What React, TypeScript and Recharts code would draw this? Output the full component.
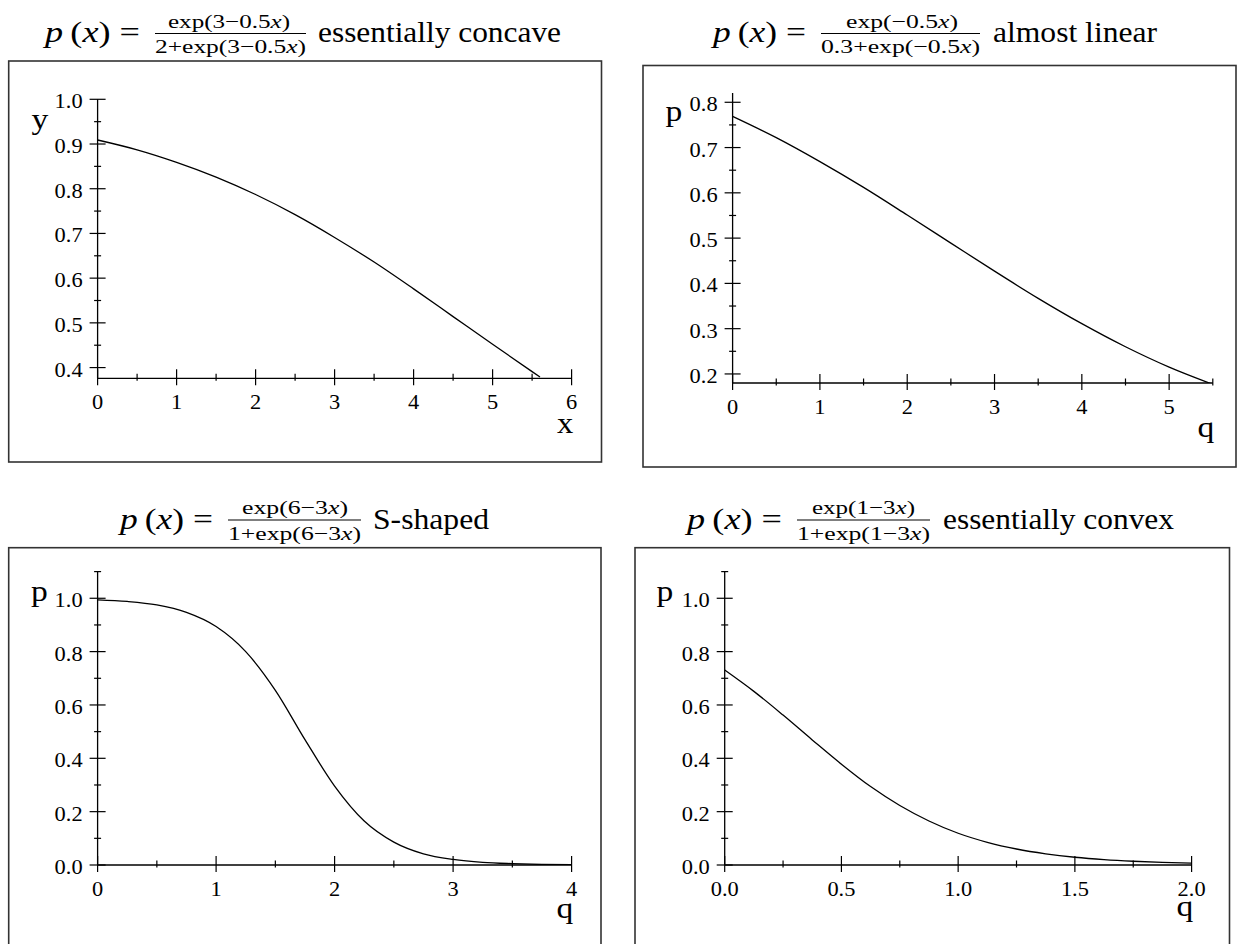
import React from 'react';
import { LineChart, Line, XAxis, YAxis } from 'recharts';

const FONT = "'Liberation Serif', 'Times New Roman', Tinos, 'Nimbus Roman', serif";
const SX = 1.12;

// ---------- Panel 1: essentially concave ----------
const p1X = [0, 0.5, 1, 1.5, 2, 2.5, 3, 3.5, 4, 4.5, 5, 5.5, 5.6];
const p1Y = [0.909, 0.887, 0.859, 0.826, 0.787, 0.742, 0.691, 0.636, 0.576, 0.514, 0.452, 0.391, 0.379];
const p1XTicks = [0, 0.5, 1, 1.5, 2, 2.5, 3, 3.5, 4, 4.5, 5, 5.5, 6];
const p1XMajor = [0, 1, 2, 3, 4, 5, 6];
const p1XLabels = ['0', '1', '2', '3', '4', '5', '6'];
const p1YTicks = [0.4, 0.45, 0.5, 0.55, 0.6, 0.65, 0.7, 0.75, 0.8, 0.85, 0.9, 0.95, 1.0];
const p1YMajor = [0.4, 0.5, 0.6, 0.7, 0.8, 0.9, 1.0];
const p1YLabels = ['0.4', '0.5', '0.6', '0.7', '0.8', '0.9', '1.0'];

// ---------- Panel 2: almost linear ----------
const p2X = [0, 0.5, 1, 1.5, 2, 2.5, 3, 3.5, 4, 4.5, 5, 5.5];
const p2Y = [0.769, 0.722, 0.669, 0.612, 0.551, 0.489, 0.427, 0.367, 0.311, 0.26, 0.215, 0.177];
const p2XTicks = [0, 0.5, 1, 1.5, 2, 2.5, 3, 3.5, 4, 4.5, 5, 5.5];
const p2XMajor = [0, 1, 2, 3, 4, 5];
const p2XLabels = ['0', '1', '2', '3', '4', '5'];
const p2YTicks = [0.2, 0.25, 0.3, 0.35, 0.4, 0.45, 0.5, 0.55, 0.6, 0.65, 0.7, 0.75, 0.8];
const p2YMajor = [0.2, 0.3, 0.4, 0.5, 0.6, 0.7, 0.8];
const p2YLabels = ['0.2', '0.3', '0.4', '0.5', '0.6', '0.7', '0.8'];

// ---------- Panel 3: S-shaped ----------
const p3X = [0, 0.25, 0.5, 0.75, 1, 1.25, 1.5, 1.75, 2, 2.25, 2.5, 2.75, 3, 3.25, 3.5, 3.75, 4];
const p3Y = [0.994, 0.988, 0.975, 0.947, 0.894, 0.8, 0.655, 0.47, 0.296, 0.165, 0.086, 0.042, 0.021, 0.01, 0.005, 0.002, 0.001];
const p3XTicks = [0, 0.5, 1, 1.5, 2, 2.5, 3, 3.5, 4];
const p3XMajor = [0, 1, 2, 3, 4];
const p3XLabels = ['0', '1', '2', '3', '4'];
const p3YTicks = [0, 0.1, 0.2, 0.3, 0.4, 0.5, 0.6, 0.7, 0.8, 0.9, 1.0, 1.1];
const p3YMajor = [0, 0.2, 0.4, 0.6, 0.8, 1.0];
const p3YLabels = ['0.0', '0.2', '0.4', '0.6', '0.8', '1.0'];

// ---------- Panel 4: essentially convex ----------
const p4X = [0, 0.125, 0.25, 0.375, 0.5, 0.625, 0.75, 0.875, 1, 1.125, 1.25, 1.375, 1.5, 1.625, 1.75, 1.875, 2];
const p4Y = [0.731, 0.651, 0.562, 0.469, 0.378, 0.294, 0.223, 0.165, 0.119, 0.085, 0.06, 0.042, 0.029, 0.02, 0.014, 0.01, 0.007];
const p4XTicks = [0, 0.25, 0.5, 0.75, 1, 1.25, 1.5, 1.75, 2];
const p4XMajor = [0, 0.5, 1, 1.5, 2];
const p4XLabels = ['0.0', '0.5', '1.0', '1.5', '2.0'];
const p4YTicks = p3YTicks;
const p4YMajor = p3YMajor;
const p4YLabels = p3YLabels;

const toData = (xs: number[], ys: number[]) => xs.map((x, i) => ({ x, y: ys[i] }));

function SText(props: any) {
  const { x, y, anchor = 'start', size = 20, children } = props;
  return (
    <text
      transform={`translate(${x} ${y}) scale(${SX} 1)`}
      textAnchor={anchor}
      fontSize={size}
      style={{ fontFamily: FONT }}
      fill="#000"
    >
      {children}
    </text>
  );
}

const findIdx = (arr: number[], v: number) => arr.findIndex((m) => Math.abs(m - v) < 1e-6);

const makeXTick = (majors: number[], labels: string[]) => (props: any) => {
  const { x, payload } = props;
  const y = props.y - 1;
  const i = findIdx(majors, payload.value);
  const len = i >= 0 ? 8 : 3.5;
  return (
    <g>
      <line x1={x} x2={x} y1={y - len} y2={y + len} stroke="#000" strokeWidth={1.2} />
      {i >= 0 && (
        <SText x={x} y={y + 32} anchor="middle" size={20}>
          {labels[i]}
        </SText>
      )}
    </g>
  );
};

const makeYTick = (majors: number[], labels: string[]) => (props: any) => {
  const { x, y, payload } = props;
  const i = findIdx(majors, payload.value);
  const len = i >= 0 ? 8 : 3.5;
  return (
    <g>
      <line x1={x - len} x2={x + len} y1={y} y2={y} stroke="#000" strokeWidth={1.2} />
      {i >= 0 && (
        <SText x={x - 15} y={y + 9} anchor="end" size={20}>
          {labels[i]}
        </SText>
      )}
    </g>
  );
};

function Panel(props: any) {
  const { left, top, w, h, margin, xDomain, yDomain, data, xTicks, xMajor, xLabels, yTicks, yMajor, yLabels } = props;
  const m = { top: margin.top, right: margin.right, bottom: margin.bottom - 1, left: margin.left - 1 };
  return (
    <div style={{ position: 'absolute', left, top, width: w, height: h }}>
      <LineChart width={w} height={h} data={data} margin={m}>
        <XAxis
          dataKey="x"
          type="number"
          domain={xDomain}
          ticks={xTicks}
          interval={0}
          allowDataOverflow
          height={1}
          tickSize={0}
          tickMargin={0}
          tickLine={false}
          axisLine={{ stroke: '#000', strokeWidth: 1.3 }}
          tick={makeXTick(xMajor, xLabels)}
        />
        <YAxis
          type="number"
          domain={yDomain}
          ticks={yTicks}
          interval={0}
          allowDataOverflow
          width={1}
          tickSize={0}
          tickMargin={0}
          tickLine={false}
          axisLine={{ stroke: '#000', strokeWidth: 1.3 }}
          tick={makeYTick(yMajor, yLabels)}
        />
        <Line
          dataKey="y"
          type="monotone"
          stroke="#000"
          strokeWidth={1.3}
          dot={false}
          activeDot={false}
          isAnimationActive={false}
        />
      </LineChart>
    </div>
  );
}

function Title(props: any) {
  const { m0, m1, n0, n1, d0, d1, w0, w1, bar, num, den, words } = props;
  const base = bar + 8.5;
  return (
    <g style={{ fontFamily: FONT }} fill="#000">
      <text x={m0} y={base} fontSize={30} textLength={m1 - m0} lengthAdjust="spacingAndGlyphs">
        <tspan fontStyle="italic">p</tspan>
        <tspan>{'\u2009('}</tspan>
        <tspan fontStyle="italic">x</tspan>
        <tspan>{') ='}</tspan>
      </text>
      <text x={n0} y={bar - 6} fontSize={19} textLength={n1 - n0} lengthAdjust="spacingAndGlyphs">
        {num}
        <tspan fontStyle="italic">x</tspan>
        {')'}
      </text>
      <line x1={d0} x2={d1} y1={bar} y2={bar} stroke="#000" strokeWidth={1.1} />
      <text x={d0} y={bar + 19.5} fontSize={19} textLength={d1 - d0} lengthAdjust="spacingAndGlyphs">
        {den}
        <tspan fontStyle="italic">x</tspan>
        {')'}
      </text>
      <text x={w0} y={base} fontSize={30} textLength={w1 - w0} lengthAdjust="spacingAndGlyphs">
        {words}
      </text>
    </g>
  );
}

export default function App() {
  return (
    <div style={{ position: 'absolute', left: 0, top: 0, width: 1238, height: 944, background: '#fff', overflow: 'hidden' }}>
      <svg width={1238} height={944} style={{ position: 'absolute', left: 0, top: 0 }}>
        <rect x={8.7} y={61} width={592.8} height={401} fill="none" stroke="#333" strokeWidth={1.6} />
        <rect x={643} y={65.5} width={593} height={401.5} fill="none" stroke="#333" strokeWidth={1.6} />
        <rect x={8.7} y={547.7} width={592.3} height={420} fill="none" stroke="#333" strokeWidth={1.6} />
        <rect x={635} y={547.7} width={594.5} height={420} fill="none" stroke="#333" strokeWidth={1.6} />

        <Title m0={45} m1={140} n0={168} n1={290} d0={155} d1={306} w0={318} w1={561} bar={33.5}
          num={'exp(3\u22120.5'} den={'2+exp(3\u22120.5'} words="essentially concave" />
        <Title m0={713} m1={806} n0={846} n1={958} d0={821} d1={980} w0={993} w1={1157} bar={33.5}
          num={'exp(\u22120.5'} den={'0.3+exp(\u22120.5'} words="almost linear" />
        <Title m0={120} m1={213} n0={242} n1={348} d0={228} d1={361} w0={373} w1={489} bar={520}
          num={'exp(6\u22123'} den={'1+exp(6\u22123'} words="S-shaped" />
        <Title m0={687} m1={782} n0={812} n1={915} d0={797} d1={930} w0={943} w1={1174} bar={520}
          num={'exp(1\u22123'} den={'1+exp(1\u22123'} words="essentially convex" />

        <SText x={40} y={129} anchor="middle" size={30}>y</SText>
        <SText x={565} y={433} anchor="middle" size={29}>x</SText>
        <SText x={674} y={121} anchor="middle" size={30}>p</SText>
        <SText x={1206} y={437} anchor="middle" size={30}>q</SText>
        <SText x={39.5} y={601} anchor="middle" size={30}>p</SText>
        <SText x={565} y={918} anchor="middle" size={30}>q</SText>
        <SText x={665} y={601} anchor="middle" size={30}>p</SText>
        <SText x={1185} y={916} anchor="middle" size={30}>q</SText>
      </svg>

      <Panel left={0} top={0} w={620} h={470}
        margin={{ top: 99.3, right: 48.4, bottom: 91.7, left: 97.6 }}
        xDomain={[0, 6]} yDomain={[0.376, 1]} data={toData(p1X, p1Y)}
        xTicks={p1XTicks} xMajor={p1XMajor} xLabels={p1XLabels}
        yTicks={p1YTicks} yMajor={p1YMajor} yLabels={p1YLabels} />
      <Panel left={620} top={0} w={618} h={470}
        margin={{ top: 93, right: 25.2, bottom: 87, left: 112.6 }}
        xDomain={[0, 5.5]} yDomain={[0.18, 0.8205]} data={toData(p2X, p2Y)}
        xTicks={p2XTicks} xMajor={p2XMajor} xLabels={p2XLabels}
        yTicks={p2YTicks} yMajor={p2YMajor} yLabels={p2YLabels} />
      <Panel left={0} top={470} w={620} h={474}
        margin={{ top: 101.6, right: 48.4, bottom: 79, left: 97.6 }}
        xDomain={[0, 4]} yDomain={[0, 1.1]} data={toData(p3X, p3Y)}
        xTicks={p3XTicks} xMajor={p3XMajor} xLabels={p3XLabels}
        yTicks={p3YTicks} yMajor={p3YMajor} yLabels={p3YLabels} />
      <Panel left={620} top={470} w={618} h={474}
        margin={{ top: 101.6, right: 46.4, bottom: 79, left: 104.7 }}
        xDomain={[0, 2]} yDomain={[0, 1.1]} data={toData(p4X, p4Y)}
        xTicks={p4XTicks} xMajor={p4XMajor} xLabels={p4XLabels}
        yTicks={p4YTicks} yMajor={p4YMajor} yLabels={p4YLabels} />
    </div>
  );
}
